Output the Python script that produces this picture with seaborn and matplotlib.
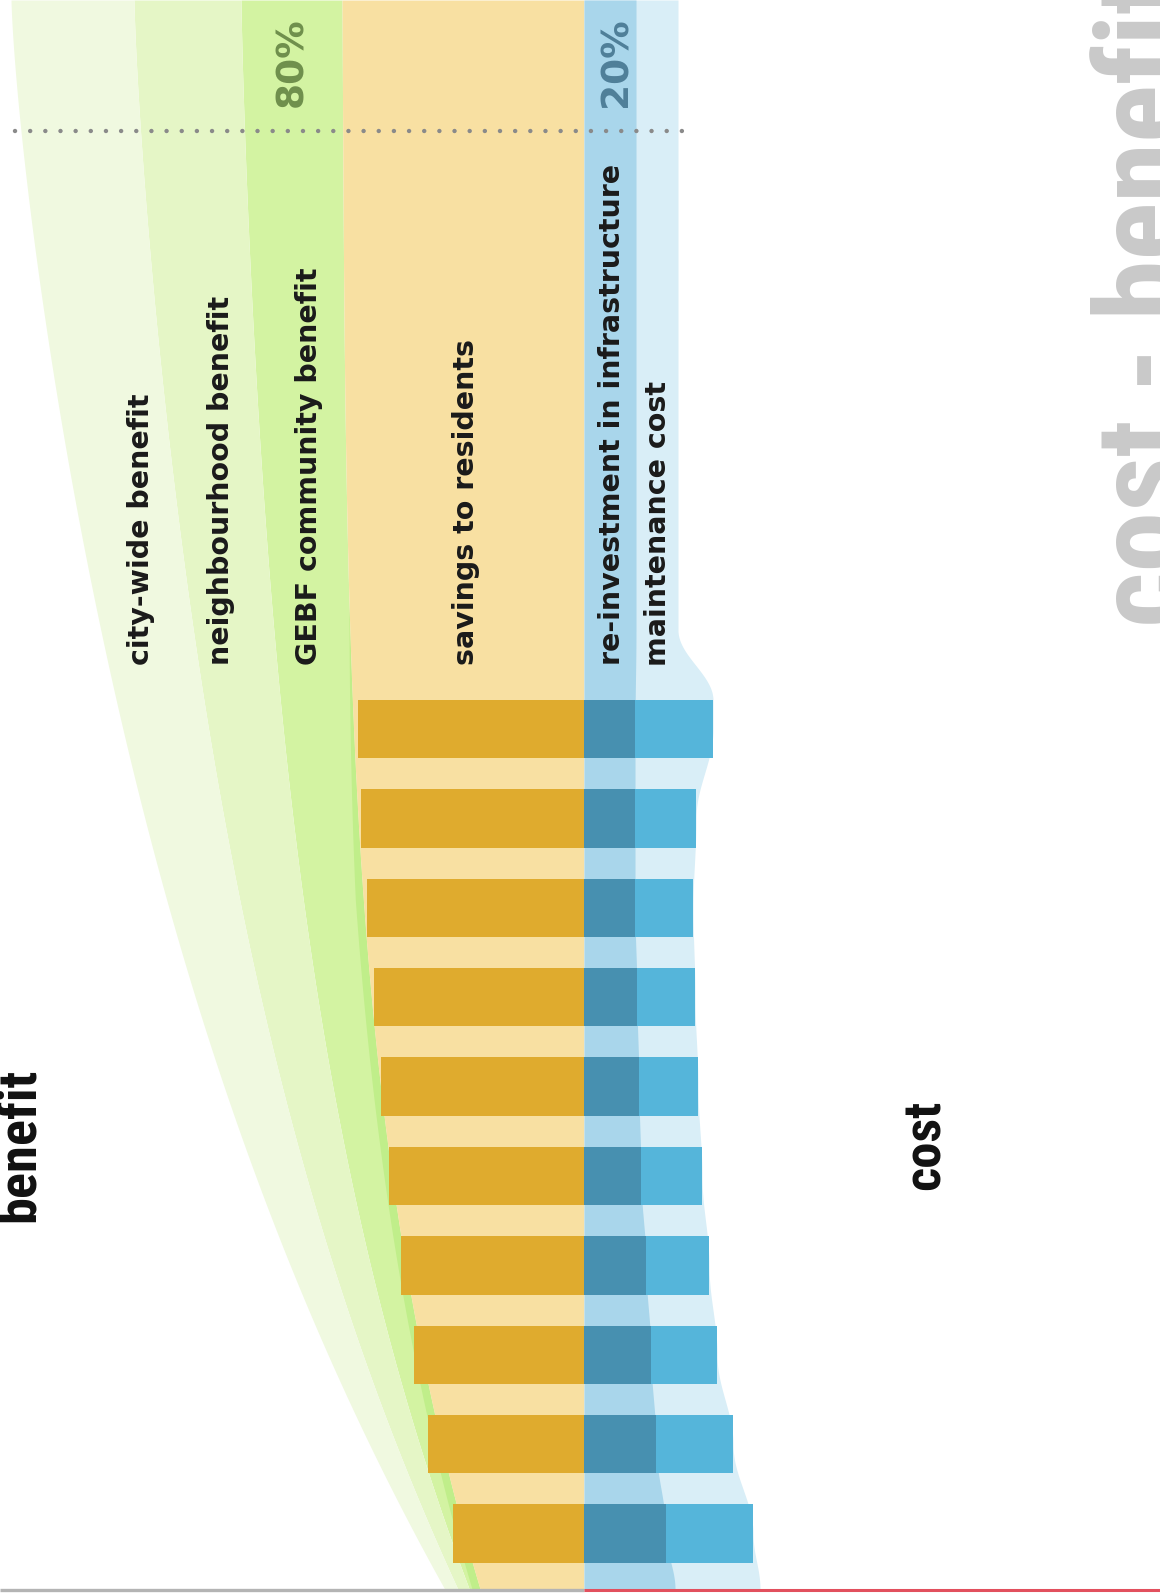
import numpy as np
import pandas as pd
import matplotlib
matplotlib.use("Agg")
import matplotlib.pyplot as plt
import seaborn as sns

# ---------------- data ----------------
years = [f"year {i}" for i in range(1, 11)]
savings = [226, 223, 217, 210, 203, 195, 183, 170, 156, 131]        # savings to residents
reinvestment = [51, 51, 51, 53, 55, 57, 62, 67, 72, 82]             # re-investment in infrastructure
maintenance = [78, 61, 58, 58, 59, 61, 63, 66, 77, 87]              # maintenance cost
benefit_labels = ["GEBF community benefit", "neighbourhood benefit", "city-wide benefit"]
benefit_widths = [101, 107, 123]                                    # band widths at the top
share_labels = ["80%", "20%"]

# ---------------- styles ----------------
C_CITY, C_NEIGH, C_GEBF, C_GEBF_EDGE = "#f0f9e0", "#e5f6c6", "#d3f3a2", "#c0ee8a"
C_ORANGE_BG, C_ORANGE = "#f8e0a2", "#dfab2e"
C_REINV_BG, C_MAINT_BG = "#a9d6eb", "#d9eef7"
C_REINV, C_MAINT = "#4790b0", "#55b5da"

W, H = 1160, 1593
X0 = 584                 # pixel column of the zero line
Y0, PITCH = 729, 89.4    # pixel row of first bar centre, bar pitch

def px_x(p):
    return p - X0

def px_y(p):
    return (p - Y0) / PITCH

sns.set_theme(style="white")
plt.rcParams["font.family"] = ["DejaVu Sans"]

fig = plt.figure(figsize=(W / 100, H / 100), dpi=100)
ax = fig.add_axes([0, 0, 1, 1])

df = pd.DataFrame({
    "year": years,
    "savings": -np.array(savings, dtype=float),
    "reinvestment": np.array(reinvestment, dtype=float),
    "cost_total": np.array(reinvestment, dtype=float) + np.array(maintenance, dtype=float),
})

# ---------------- smooth background envelopes ----------------
def ease(yq, ys, vs):
    ys = np.asarray(ys, float); vs = np.asarray(vs, float)
    idx = np.clip(np.searchsorted(ys, yq) - 1, 0, len(ys) - 2)
    y0, y1 = ys[idx], ys[idx + 1]
    t = np.clip((yq - y0) / (y1 - y0), 0, 1)
    s = (1 - np.cos(np.pi * t)) / 2
    return vs[idx] + (vs[idx + 1] - vs[idx]) * s

centers = np.arange(len(years), dtype=float)
y_top, y_bot = px_y(0), px_y(1589)
yq = np.linspace(y_top, y_bot, 1200)
ypx = yq * PITCH + Y0
u = np.clip(ypx, 0, None) / 1589.0

env_re = ease(yq, np.r_[y_top, px_y(630), centers, y_bot],
              np.r_[52, 52, df["reinvestment"].values, 91])
env_tot = ease(yq, np.r_[y_top, px_y(630), px_y(700), centers, y_bot],
               np.r_[94, 94, df["cost_total"].values[0], df["cost_total"].values, 176])

# smooth left edge of the savings band and tapering benefit bands
orange_left = px_x(342 + 8 * u + 130 * u ** 3.6)
taper = 1 - 0.89 * (np.clip(ypx, 0, None) / 1585.0) ** 1.387
cum = np.cumsum(benefit_widths)
edges = [orange_left] + [orange_left - c * taper for c in cum]
band_cols = [C_GEBF, C_NEIGH, C_CITY]
for i in range(3):
    ax.fill_betweenx(yq, edges[i + 1], edges[i], color=band_cols[i], lw=0, zorder=0.5)
edge_w = 8 * np.clip((ypx - 600) / 300, 0, 1)
ax.fill_betweenx(yq, orange_left - edge_w, orange_left, color=C_GEBF_EDGE, lw=0, zorder=0.6)
ax.fill_betweenx(yq, orange_left, 0, color=C_ORANGE_BG, lw=0, zorder=0.7)
ax.fill_betweenx(yq, 0, env_tot, color=C_MAINT_BG, lw=0, zorder=0.7)
ax.fill_betweenx(yq, 0, env_re, color=C_REINV_BG, lw=0, zorder=0.8)

# ---------------- bars ----------------
bw = 58.5 / PITCH
sns.barplot(data=df, x="savings", y="year", orient="h", color=C_ORANGE,
            saturation=1, width=bw, linewidth=0, ax=ax)
sns.barplot(data=df, x="cost_total", y="year", orient="h", color=C_MAINT,
            saturation=1, width=bw, linewidth=0, ax=ax)
sns.barplot(data=df, x="reinvestment", y="year", orient="h", color=C_REINV,
            saturation=1, width=bw, linewidth=0, ax=ax)
for p in ax.patches:
    p.set_zorder(3)

# ---------------- dotted divider & base lines ----------------
ax.plot([px_x(15), px_x(685)], [px_y(131)] * 2, color="#8a8a8a", lw=3.2,
        dashes=(0.01, 3.4), dash_capstyle="round", zorder=4)
ax.plot([px_x(0), 0], [px_y(1590)] * 2, color="#b4b4b4", lw=2.4, zorder=4, solid_capstyle="butt")
ax.plot([0, px_x(W)], [px_y(1590)] * 2, color="#e2505e", lw=2.2, zorder=4, solid_capstyle="butt")

# ---------------- texts ----------------
lab_kw = dict(rotation=90, rotation_mode="anchor", ha="left", va="center",
              fontsize=20.5, fontweight="bold", color="#1a1a1a", zorder=5)
label_x = {"city-wide benefit": 141, "neighbourhood benefit": 221,
           "GEBF community benefit": 309}
for lab in benefit_labels:
    ax.text(px_x(label_x[lab]), px_y(665), lab, **lab_kw)
ax.text(px_x(466), px_y(665), "savings to residents", **lab_kw)
ax.text(px_x(612), px_y(665), "re-investment in infrastructure", **lab_kw)
ax.text(px_x(658), px_y(666), "maintenance cost", **lab_kw)

pct_kw = dict(rotation=90, rotation_mode="anchor", ha="left", va="center",
              fontsize=27, fontweight="bold", zorder=5)
ax.text(px_x(292), px_y(107), share_labels[0], color="#6f8f4c", **pct_kw)
ax.text(px_x(616), px_y(107), share_labels[1], color="#4f7f99", **pct_kw)

big_family = ["Roboto Condensed", "Roboto", "DejaVu Sans"]
big_kw = dict(rotation=90, rotation_mode="anchor", va="baseline",
              fontweight="black", family=big_family, zorder=5)
t_ben = ax.text(px_x(34), px_y(1145), "benefit", ha="center", fontsize=40,
                color="#111111", **big_kw)
t_cost = ax.text(px_x(940), px_y(1145), "cost", ha="center", fontsize=40,
                 color="#111111", **big_kw)
t_big = ax.text(px_x(1182), px_y(627), "cost - benefit", ha="left", fontsize=100,
                color="#c9c9c9", **big_kw)

ax.set_xlim(px_x(0), px_x(W))
ax.set_ylim(px_y(H), px_y(0))
ax.axis("off")

# scale the display titles so that their lengths match the design
fig.canvas.draw()
rend = fig.canvas.get_renderer()
for t, target in [(t_ben, 154), (t_cost, 90), (t_big, 650)]:
    cur = t.get_window_extent(rend).height
    t.set_fontsize(t.get_fontsize() * target / cur)

fig.savefig("out.png", dpi=100)
